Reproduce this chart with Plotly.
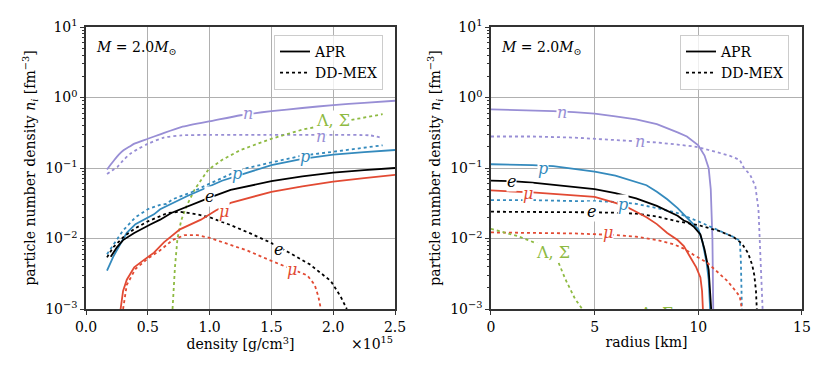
import math
import plotly.graph_objects as go

# cores (ciclo ggplot)
C_N = '#988ED5'
C_P = '#348ABD'
C_MU = '#E24A33'
C_E = 'black'
C_HYP = '#8EBA42'

# ---- painel esquerdo: densidade (x 1e15 g/cm3) ----
rho_apr_n = [0.17, 0.2, 0.226, 0.265, 0.306, 0.35, 0.387, 0.5, 0.6, 0.77, 1.03, 1.25, 1.5, 1.75, 2.0, 2.25, 2.5]
apr_n_rho = [0.095, 0.112, 0.128, 0.155, 0.18, 0.2, 0.22, 0.26, 0.3, 0.38, 0.47, 0.56, 0.64, 0.71, 0.78,
             0.84, 0.9]

rho_dd_n = [0.17, 0.21, 0.255, 0.3, 0.36, 0.43, 0.5, 0.63, 0.77, 1.0, 1.5, 2.0, 2.3, 2.4]
dd_n_rho = [0.082, 0.092, 0.104, 0.128, 0.16, 0.19, 0.22, 0.27, 0.29, 0.295, 0.295, 0.295, 0.29, 0.265]

rho_dd_hyp = [0.70, 0.71, 0.72, 0.74, 0.77, 0.81, 0.88, 0.99, 1.1, 1.25, 1.5, 1.75, 2.0, 2.2, 2.4]
dd_hyp_rho = [0.001, 0.0025, 0.004, 0.01, 0.018, 0.028, 0.05, 0.095, 0.13, 0.18, 0.26, 0.35, 0.43, 0.5, 0.58]

rho_apr_p = [0.17, 0.22, 0.28, 0.33, 0.4, 0.5, 0.55, 0.6, 0.7, 0.82, 1.0, 1.1, 1.25, 1.5, 1.75, 2.0, 2.25, 2.5]
apr_p_rho = [0.0035, 0.0055, 0.0085, 0.012, 0.016, 0.02, 0.022, 0.026, 0.032, 0.04, 0.055, 0.066, 0.08,
             0.11, 0.135, 0.155, 0.168, 0.18]

rho_dd_p = [0.17, 0.22, 0.3, 0.4, 0.5, 0.6, 0.65, 0.7, 0.85, 1.0, 1.25, 1.5, 1.75, 2.0, 2.2, 2.4]
dd_p_rho = [0.006, 0.008, 0.013, 0.02, 0.026, 0.03, 0.031, 0.036, 0.045, 0.06, 0.095, 0.12, 0.15, 0.17,
            0.19, 0.21]

rho_apr_e = [0.2, 0.25, 0.3, 0.39, 0.52, 0.6, 0.69, 0.85, 1.0, 1.17, 1.5, 1.75, 2.0, 2.25, 2.5]
apr_e_rho = [0.0055, 0.0075, 0.0095, 0.012, 0.0158, 0.0185, 0.023, 0.030, 0.038, 0.049, 0.065, 0.076,
             0.086, 0.093, 0.1]

rho_dd_e = [0.17, 0.22, 0.31, 0.4, 0.5, 0.6, 0.66, 0.76, 0.9, 1.0, 1.17, 1.33, 1.49, 1.63, 1.81, 1.98,
            2.06, 2.11]
dd_e_rho = [0.0054, 0.0075, 0.0108, 0.014, 0.0175, 0.021, 0.023, 0.024, 0.022, 0.02, 0.0155, 0.0118,
            0.0088, 0.0065, 0.0043, 0.0025, 0.0015, 0.001]

rho_apr_mu = [0.28, 0.3, 0.33, 0.39, 0.45, 0.5, 0.55, 0.63, 0.7, 0.76, 0.93, 1.05, 1.17, 1.5, 1.75, 2.0,
              2.25, 2.5]
apr_mu_rho = [0.001, 0.0018, 0.0026, 0.0039, 0.0047, 0.0054, 0.0063, 0.0088, 0.011, 0.0135, 0.0185, 0.025,
              0.032, 0.046, 0.055, 0.064, 0.072, 0.08]

rho_dd_mu = [0.3, 0.33, 0.4, 0.5, 0.6, 0.7, 0.8, 0.9, 1.0, 1.17, 1.3, 1.49, 1.65, 1.79, 1.85, 1.88, 1.9]
dd_mu_rho = [0.001, 0.0022, 0.0037, 0.0052, 0.0068, 0.0095, 0.0112, 0.0112, 0.0102, 0.008, 0.0068, 0.0049,
             0.0038, 0.003, 0.0022, 0.0015, 0.001]

# ---- painel direito: raio (km) ----
r_apr_n = [0, 1, 2, 3, 4, 5, 6, 7, 8, 8.6, 9.0, 9.45, 10.0, 10.3, 10.5, 10.6, 10.68, 10.72]
apr_n_r = [0.68, 0.67, 0.66, 0.64, 0.62, 0.59, 0.54, 0.49, 0.42, 0.36, 0.32, 0.28, 0.21, 0.15, 0.099,
           0.05, 0.01, 0.001]

r_dd_n = [0, 2, 4, 6, 8, 9, 9.9, 10.5, 11, 11.5, 12.0, 12.2, 12.5, 12.75, 12.9, 13.0, 13.1]
dd_n_r = [0.28, 0.28, 0.27, 0.25, 0.23, 0.215, 0.2, 0.18, 0.165, 0.15, 0.13, 0.1, 0.08, 0.055, 0.026,
          0.005, 0.001]

r_apr_p = [0, 1, 2, 3, 4, 5, 6, 7, 7.5, 8, 8.5, 9, 9.3, 9.6, 10, 10.2, 10.4, 10.5, 10.57]
apr_p_r = [0.113, 0.112, 0.11, 0.106, 0.098, 0.089, 0.078, 0.064, 0.057, 0.046, 0.036, 0.027, 0.022,
           0.018, 0.0135, 0.009, 0.0045, 0.0026, 0.001]

r_apr_e = [0, 1, 2, 3, 4, 5, 6, 7, 8, 8.5, 9, 9.3, 9.5, 9.8, 10.1, 10.3, 10.5, 10.62]
apr_e_r = [0.066, 0.065, 0.062, 0.058, 0.054, 0.05, 0.044, 0.037, 0.029, 0.025, 0.021, 0.018, 0.017,
           0.0145, 0.0114, 0.007, 0.0036, 0.001]

r_apr_mu = [0, 1, 2, 3, 4, 5, 6, 6.5, 7, 7.5, 8, 8.5, 9, 9.3, 9.6, 9.9, 10.1, 10.18, 10.22]
apr_mu_r = [0.048, 0.047, 0.045, 0.043, 0.041, 0.039, 0.032, 0.0285, 0.024, 0.02, 0.016, 0.012, 0.0095,
            0.0078, 0.0055, 0.0039, 0.0028, 0.0018, 0.001]

r_dd_p = [0, 2, 4, 5, 6, 7, 8, 9, 10, 11, 11.7, 12.0, 12.05, 12.08, 12.1]
dd_p_r = [0.035, 0.035, 0.034, 0.034, 0.033, 0.031, 0.027, 0.023, 0.0175, 0.013, 0.0105, 0.0093, 0.005,
          0.002, 0.001]

r_dd_e = [0, 2, 4, 5, 6, 7, 8, 9, 10, 11, 11.7, 12.1, 12.4, 12.6, 12.7, 12.78, 12.82]
dd_e_r = [0.024, 0.024, 0.0238, 0.0235, 0.0232, 0.0225, 0.0205, 0.0175, 0.0155, 0.0128, 0.0105, 0.0085,
          0.0062, 0.0042, 0.003, 0.0018, 0.001]

r_dd_mu = [0, 2, 4, 5, 6, 7, 8, 8.8, 9.3, 9.8, 10.4, 11.0, 11.4, 11.8, 12.0, 12.1]
dd_mu_r = [0.0122, 0.0121, 0.0118, 0.0115, 0.0112, 0.0106, 0.0095, 0.0083, 0.0072, 0.0058, 0.0046,
           0.0032, 0.0025, 0.0018, 0.0015, 0.001]

r_dd_hyp = [0, 0.5, 1.3, 2.3, 2.8, 3.2, 3.6, 4.05, 4.4]
dd_hyp_r = [0.0137, 0.0125, 0.0108, 0.0083, 0.0065, 0.005, 0.0026, 0.0014, 0.001]

# rótulos sobre as curvas: (texto, x, y, cor)
rotulos_esq = [
    ('<i>n</i>', 1.31, 0.6, C_N), ('<i>n</i>', 1.9, 0.28, C_N), ('Λ, Σ', 2.0, 0.47, C_HYP),
    ('<i>p</i>', 1.77, 0.145, C_P), ('<i>p</i>', 1.22, 0.084, C_P), ('<i>e</i>', 1.0, 0.039, C_E),
    ('<i>μ</i>', 1.115, 0.0243, C_MU), ('<i>e</i>', 1.56, 0.007, C_E), ('<i>μ</i>', 1.67, 0.0036, C_MU),
]
rotulos_dir = [
    ('<i>n</i>', 3.41, 0.62, C_N), ('<i>n</i>', 7.19, 0.235, C_N), ('<i>p</i>', 2.52, 0.1, C_P),
    ('<i>e</i>', 1.0, 0.064, C_E), ('<i>μ</i>', 1.8, 0.044, C_MU), ('<i>p</i>', 6.38, 0.030, C_P),
    ('<i>e</i>', 4.86, 0.0243, C_E), ('<i>μ</i>', 5.66, 0.012, C_MU), ('Λ, Σ', 3.0, 0.0063, C_HYP),
]

FONTE = 'DejaVu Serif'
TAM = 14

fig = go.Figure()


def linha(x, y, cor, tracejado, eixo, suave=False):
    fig.add_trace(go.Scatter(
        x=x, y=y, mode='lines', showlegend=False, hoverinfo='skip',
        line=dict(color=cor, width=1.8, dash=tracejado,
                  shape='spline' if suave else 'linear', smoothing=0.6),
        xaxis=eixo[0], yaxis=eixo[1],
    ))


esq = ('x', 'y')
dir_ = ('x2', 'y2')

linha(rho_apr_n, apr_n_rho, C_N, 'solid', esq, True)
linha(rho_dd_n, dd_n_rho, C_N, 'dot', esq, True)
linha(rho_dd_hyp, dd_hyp_rho, C_HYP, 'dot', esq)
linha(rho_apr_p, apr_p_rho, C_P, 'solid', esq)
linha(rho_dd_p, dd_p_rho, C_P, 'dot', esq)
linha(rho_apr_e, apr_e_rho, C_E, 'solid', esq)
linha(rho_dd_e, dd_e_rho, C_E, 'dot', esq)
linha(rho_apr_mu, apr_mu_rho, C_MU, 'solid', esq)
linha(rho_dd_mu, dd_mu_rho, C_MU, 'dot', esq)

linha(r_apr_n, apr_n_r, C_N, 'solid', dir_)
linha(r_dd_n, dd_n_r, C_N, 'dot', dir_)
linha(r_apr_p, apr_p_r, C_P, 'solid', dir_)
linha(r_dd_p, dd_p_r, C_P, 'dot', dir_)
linha(r_apr_e, apr_e_r, C_E, 'solid', dir_)
linha(r_dd_e, dd_e_r, C_E, 'dot', dir_)
linha(r_apr_mu, apr_mu_r, C_MU, 'solid', dir_)
linha(r_dd_mu, dd_mu_r, C_MU, 'dot', dir_)
linha(r_dd_hyp, dd_hyp_r, C_HYP, 'dot', dir_)

# rótulo cortado na borda inferior do painel direito
fig.add_trace(go.Scatter(
    x=[8.0], y=[0.00082], mode='text', text=['Λ, Σ'], cliponaxis=True, showlegend=False,
    textfont=dict(family=FONTE, size=16, color=C_HYP), xaxis='x2', yaxis='y2', hoverinfo='skip',
))

# legendas
for leg, eixo in (('legend', esq), ('legend2', dir_)):
    fig.add_trace(go.Scatter(x=[None], y=[None], mode='lines', name='APR', legend=leg,
                             line=dict(color='black', width=1.8), xaxis=eixo[0], yaxis=eixo[1]))
    fig.add_trace(go.Scatter(x=[None], y=[None], mode='lines', name='DD-MEX', legend=leg,
                             line=dict(color='black', width=1.8, dash='dot'), xaxis=eixo[0], yaxis=eixo[1]))

anots = []
for rotulos, xr, yr in ((rotulos_esq, 'x', 'y'), (rotulos_dir, 'x2', 'y2')):
    for txt, x, y, cor in rotulos:
        anots.append(dict(x=x, y=math.log10(y), xref=xr, yref=yr, text=txt, showarrow=False,
                          font=dict(family=FONTE, size=16, color=cor), bgcolor='white', borderpad=0))

massa = '<i>M</i> = 2.0<i>M</i><sub>⊙</sub>'
for xr, yr in (('x domain', 'y domain'), ('x2 domain', 'y2 domain')):
    anots.append(dict(x=0.025, y=0.925, xref=xr, yref=yr, text=massa, showarrow=False,
                      xanchor='left', yanchor='middle', font=dict(family=FONTE, size=TAM, color='black')))
anots.append(dict(x=1.0, y=-0.12, xref='x domain', yref='paper', text='×10<sup>15</sup>', showarrow=False,
                  xanchor='right', yanchor='middle', font=dict(family=FONTE, size=TAM, color='black')))

tickvals_y = [1e-3, 1e-2, 1e-1, 1, 10]
ticktext_y = ['10<sup>−3</sup>', '10<sup>−2</sup>', '10<sup>−1</sup>', '10<sup>0</sup>', '10<sup>1</sup>']

eixo_base = dict(showline=True, linecolor='#333333', linewidth=1.5, mirror=True, ticks='outside',
                 ticklen=4, tickcolor='#333333', showgrid=True, gridcolor='#b0b0b0', gridwidth=1,
                 zeroline=False, automargin=False, tickfont=dict(family=FONTE, size=TAM, color='black'))

eixo_y = dict(eixo_base, type='log', range=[-3, 1], tickvals=tickvals_y, ticktext=ticktext_y,
              minor=dict(ticks='outside', ticklen=2.5, tickcolor='#333333', dtick='D1', showgrid=False),
              title=dict(text='particle number density <i>n<sub>i</sub></i> [fm<sup>−3</sup>]',
                         font=dict(family=FONTE, size=TAM, color='black'), standoff=6))

leg_base = dict(bgcolor='rgba(255,255,255,0.8)', bordercolor='#cccccc', borderwidth=1,
                font=dict(family=FONTE, size=TAM, color='black'), xanchor='left', yanchor='top',
                tracegroupgap=0, itemwidth=30)

# a página desloca a figura 8px (margem do body), compensado nas margens
fig.update_layout(
    width=830, height=378,
    margin=dict(l=78, r=36, t=19, b=77, autoexpand=False),
    paper_bgcolor='white', plot_bgcolor='white',
    xaxis=dict(eixo_base, domain=[0, 0.4316], range=[0, 2.5], tickvals=[0, 0.5, 1.0, 1.5, 2.0, 2.5],
               ticktext=['0.0', '0.5', '1.0', '1.5', '2.0', '2.5'],
               title=dict(text='density [g/cm<sup>3</sup>]', font=dict(family=FONTE, size=TAM, color='black'),
                          standoff=4)),
    yaxis=dict(eixo_y, anchor='x'),
    xaxis2=dict(eixo_base, domain=[0.5656, 1], range=[0, 15], tickvals=[0, 5, 10, 15], anchor='y2',
                title=dict(text='radius [km]', font=dict(family=FONTE, size=TAM, color='black'), standoff=4)),
    yaxis2=dict(eixo_y, anchor='x2'),
    legend=dict(leg_base, x=0.2626, y=0.972),
    legend2=dict(leg_base, x=0.8296, y=0.972),
    annotations=anots,
    showlegend=True,
)

fig.write_html('out.html')
